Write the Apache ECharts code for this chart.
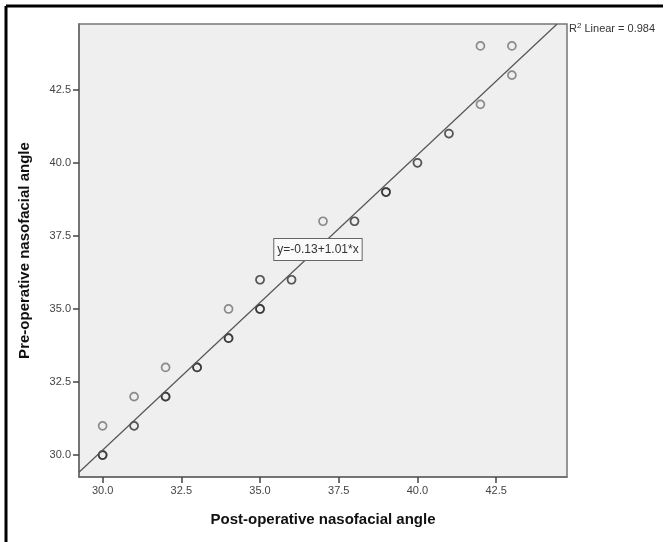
<!DOCTYPE html>
<html>
<head>
<meta charset="utf-8">
<script src="https://cdn.jsdelivr.net/npm/echarts@6/dist/echarts.min.js"></script>
<style>
  html, body { margin: 0; padding: 0; background: #fff; }
  #chart { width: 665px; height: 542px; }
</style>
</head>
<body>
<div id="chart"></div>
<script>
// post-operative (x) vs pre-operative (y) nasofacial angle, count = overlapping cases
const postOp = [30, 30, 31, 31, 32, 32, 33, 34, 34, 35, 35, 36, 37, 38, 39, 40, 41, 42, 42, 43, 43]
const preOp  = [30, 31, 31, 32, 32, 33, 33, 34, 35, 35, 36, 36, 38, 38, 39, 40, 41, 42, 44, 43, 44]
const counts = [ 3,  1,  2,  1,  3,  1,  3,  3,  1,  3,  2,  2,  1,  2,  3,  2,  2,  1,  1,  1,  1]

const tickValues = [30, 32.5, 35, 37.5, 40, 42.5]
const axisMin = 29.25
const axisMax = 44.75

const fitIntercept = -0.13
const fitSlope = 1.01
const rSquared = 0.984

const chart = echarts.init(document.getElementById('chart'))

// stack duplicates so repeated cases show as darker rings
const points = []
postOp.forEach((x, i) => {
  for (let k = 0; k < counts[i]; k++) points.push([x, preOp[i]])
})

const fitEnd = (axisMax - fitIntercept) / fitSlope
const fitLine = [
  [axisMin, fitIntercept + fitSlope * axisMin],
  [fitEnd, fitIntercept + fitSlope * fitEnd],
]

const font = 'Liberation Sans, Arial, sans-serif'
const tickLabel = { color: '#444', fontSize: 11, fontFamily: font }
const axisName = { color: '#111', fontSize: 15, fontWeight: 'bold', fontFamily: font }

const valueAxis = (name, gap) => ({
  type: 'value',
  min: axisMin,
  max: axisMax,
  name: name,
  nameLocation: 'middle',
  nameGap: gap,
  nameTextStyle: axisName,
  axisLine: { show: true, lineStyle: { color: '#6a6a6a', width: 1.5 } },
  axisTick: { show: true, length: 6, customValues: tickValues, lineStyle: { color: '#444', width: 1.5 } },
  axisLabel: Object.assign({ customValues: tickValues, margin: 8, formatter: v => v.toFixed(1) }, tickLabel),
  splitLine: { show: false },
})

chart.setOption({
  animation: false,
  grid: {
    left: 79,
    top: 24,
    right: 98,
    bottom: 65,
    show: true,
    backgroundColor: '#efefef',
    borderColor: '#777',
    borderWidth: 1.5,
  },
  xAxis: valueAxis('Post-operative nasofacial angle', 35),
  yAxis: valueAxis('Pre-operative nasofacial angle', 47),
  series: [
    {
      type: 'line',
      data: fitLine,
      symbol: 'none',
      silent: true,
      lineStyle: { color: '#555', width: 1.2 },
      markPoint: {
        symbolSize: 0,
        data: [{ coord: [36.84, 37.03] }],
        label: {
          show: true,
          formatter: 'y=' + fitIntercept.toFixed(2) + '+' + fitSlope.toFixed(2) + '*x',
          position: 'inside',
          color: '#333',
          fontSize: 12,
          fontFamily: font,
          backgroundColor: '#fafafa',
          borderColor: '#666',
          borderWidth: 1,
          padding: [5, 3, 4, 3],
        },
      },
    },
    {
      type: 'scatter',
      data: points,
      symbol: 'circle',
      symbolSize: 8,
      itemStyle: {
        color: 'transparent',
        borderColor: 'rgba(30,30,30,0.6)',
        borderWidth: 1.7,
      },
    },
  ],
  graphic: [
    { type: 'line', shape: { x1: 6, y1: 6, x2: 663, y2: 6 }, style: { stroke: '#000', lineWidth: 3 } },
    { type: 'line', shape: { x1: 6, y1: 6, x2: 6, y2: 542 }, style: { stroke: '#000', lineWidth: 3 } },
    {
      type: 'text',
      left: 569,
      top: 22,
      style: {
        text: '{r|R}{sup|2}{r| Linear = ' + rSquared.toFixed(3) + '}',
        rich: {
          r: { fill: '#333', fontSize: 11, fontFamily: font },
          sup: { fill: '#333', fontSize: 8, fontFamily: font, verticalAlign: 'top', padding: [0, 0, 5, 0] },
        },
      },
    },
  ],
})

window.addEventListener('resize', () => chart.resize())
</script>
</body>
</html>
